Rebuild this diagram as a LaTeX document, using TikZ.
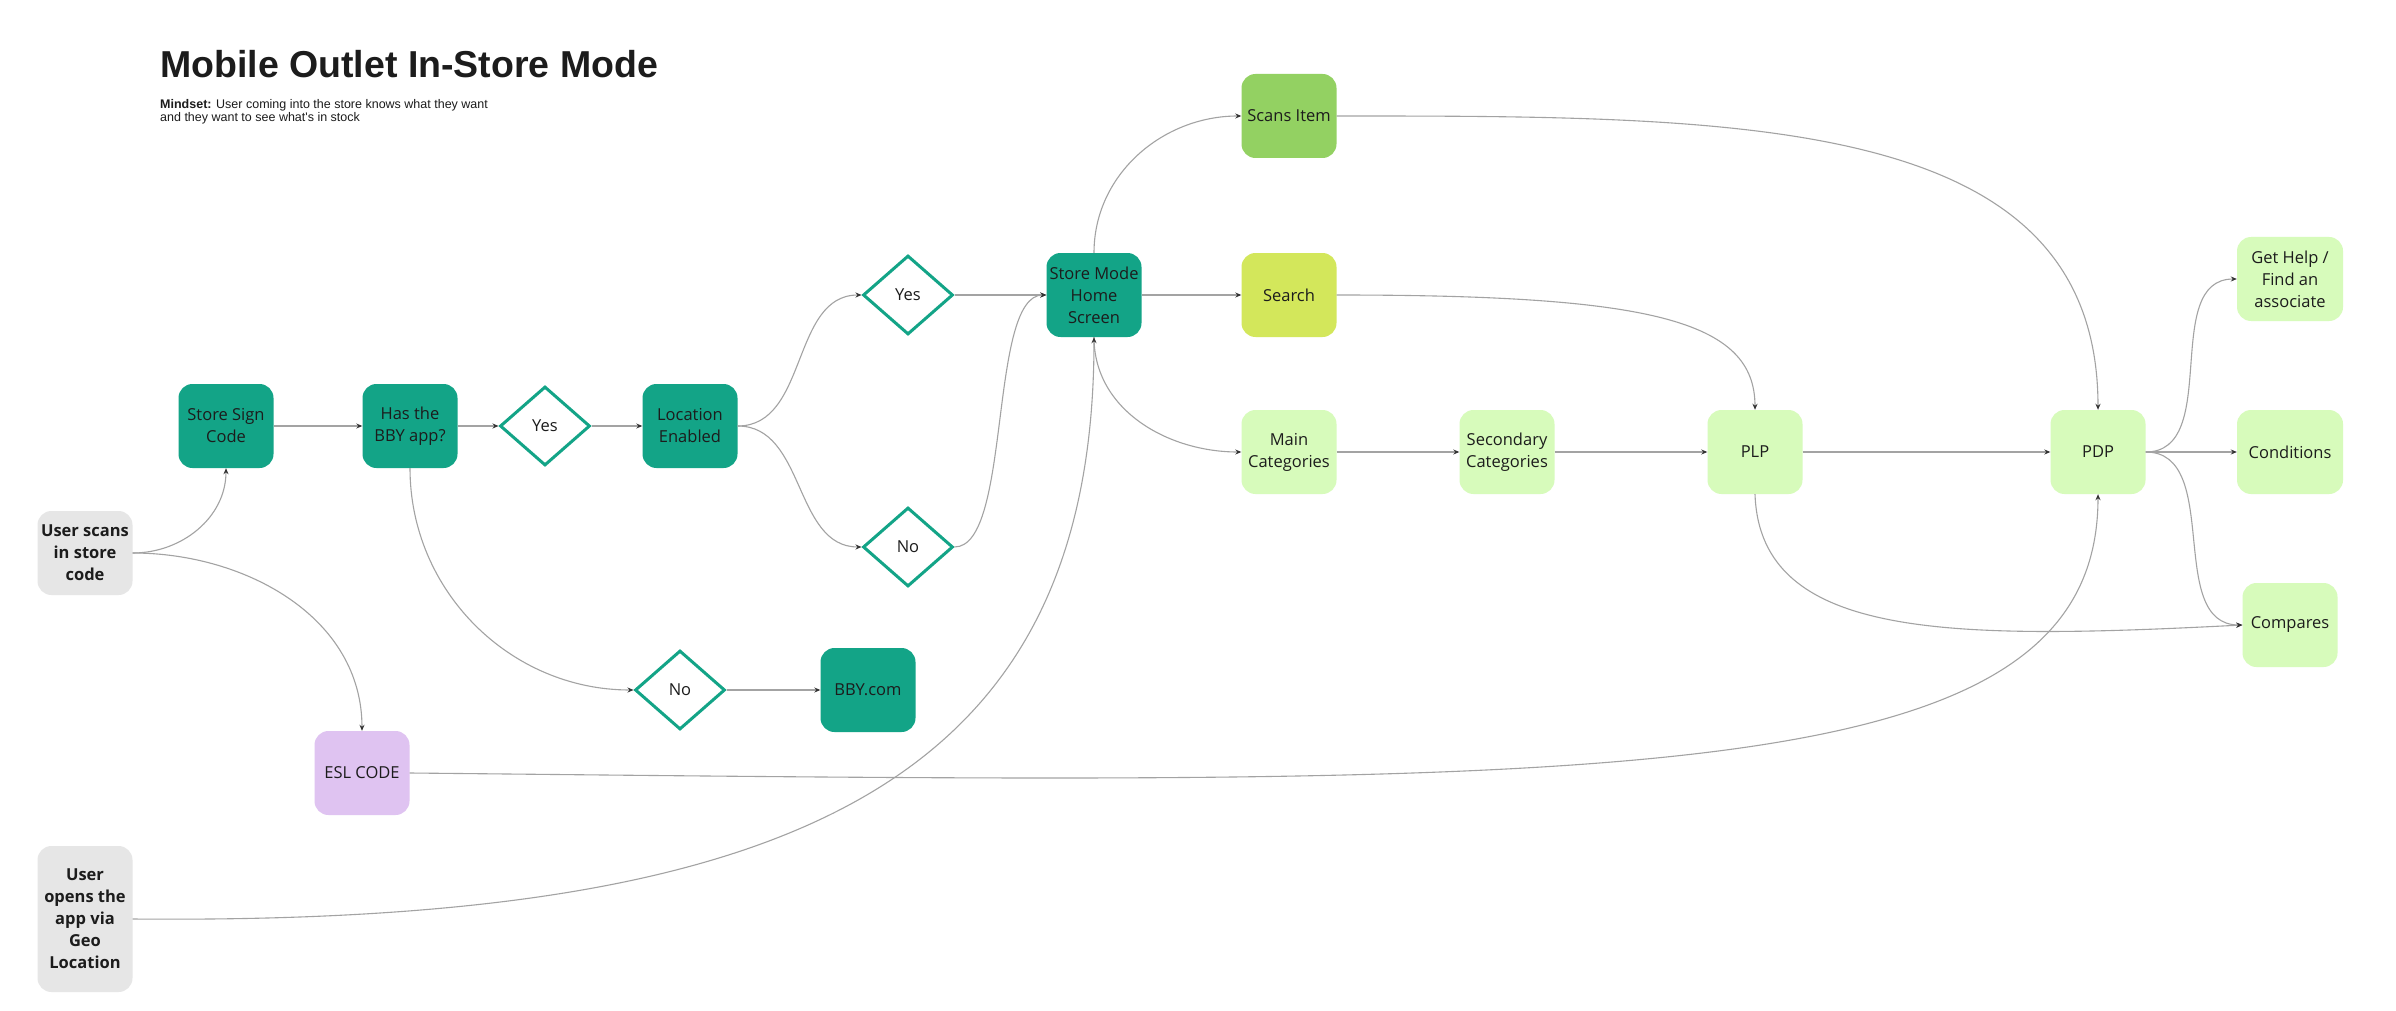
\documentclass[tikz,border=0pt]{standalone}
\usepackage{fontspec}
\setmainfont{Open Sans}
\newfontfamily\titlefont{Liberation Sans}
\usetikzlibrary{arrows.meta,shapes.geometric}
\definecolor{tealbg}{HTML}{13A487}
\definecolor{scanbg}{HTML}{93D162}
\definecolor{searchbg}{HTML}{D3E75B}
\definecolor{lightbg}{HTML}{D7FBBB}
\definecolor{lavbg}{HTML}{DFC3F1}
\definecolor{greybg}{HTML}{E6E6E6}
\definecolor{txt}{HTML}{1C1C1C}
\definecolor{linec}{HTML}{A3A3A3}
\definecolor{tipc}{HTML}{333333}
\begin{document}
\begin{tikzpicture}[x=1pt,y=-1pt,
  box/.style={rounded corners=14pt, minimum width=95pt, minimum height=84pt, align=center,
    font=\fontsize{16.5}{22}\selectfont, text=txt, inner sep=2pt},
  tealbox/.style={box, fill=tealbg},
  lightbox/.style={box, fill=lightbg},
  greybox/.style={box, fill=greybg, font=\fontsize{16.5}{22}\selectfont\bfseries},
  dia/.style={shape=diamond, draw=tealbg, line width=3pt, fill=white, inner sep=0pt,
    minimum width=90pt, minimum height=79pt, font=\fontsize{16.5}{22}\selectfont, text=txt},
  conn/.style={draw=linec, line width=1.1pt, -{Stealth[length=6pt,width=5pt,color=tipc]}}
]
\fill[white] (0,0) rectangle (2396,1011);
\useasboundingbox (0,0) rectangle (2396,1011);

% title
\node[anchor=base west, inner sep=0pt, font=\titlefont\fontsize{37.5}{40}\selectfont\bfseries, text=txt] (title) at (160,78) {Mobile Outlet In-Store Mode};
\node[anchor=base west, inner sep=0pt, font=\titlefont\fontsize{12.5}{13}\selectfont, text=txt] (mind1) at (160,109) {\textbf{Mindset:} User coming into the store knows what they want};
\node[anchor=base west, inner sep=0pt, font=\titlefont\fontsize{12.5}{13}\selectfont, text=txt] (mind2) at (160,122) {and they want to see what's in stock};

% nodes
\node[greybox] (scan) at (85,553) {User scans\\in store\\code};
\node[greybox, minimum height=146pt] (geo) at (85,919) {User\\opens the\\app via\\Geo\\Location};
\node[tealbox] (sign) at (226,426) {Store Sign\\Code};
\node[tealbox] (bby) at (410,426) {Has the\\BBY app?};
\node[dia] (yes1) at (545,426) {Yes};
\node[tealbox] (loc) at (690,426) {Location\\Enabled};
\node[dia] (yes2) at (908,295) {Yes};
\node[dia] (no1) at (908,547) {No};
\node[dia] (no2) at (680,690) {No};
\node[tealbox] (bbycom) at (868,690) {BBY.com};
\node[box, fill=lavbg] (esl) at (362,773) {ESL CODE};
\node[tealbox] (home) at (1094,295) {Store Mode\\Home\\Screen};
\node[box, fill=scanbg] (scanitem) at (1289,116) {Scans Item};
\node[box, fill=searchbg] (search) at (1289,295) {Search};
\node[lightbox] (maincat) at (1289,452) {Main\\Categories};
\node[lightbox] (seccat) at (1507,452) {Secondary\\Categories};
\node[lightbox] (plp) at (1755,452) {PLP};
\node[lightbox] (pdp) at (2098,452) {PDP};
\node[lightbox, minimum width=106pt] (help) at (2290,279) {Get Help /\\Find an\\associate};
\node[lightbox, minimum width=106pt] (cond) at (2290,452) {Conditions};
\node[lightbox] (comp) at (2290,625) {Compares};

% connectors
\draw[conn] (scan.east) to[out=0,in=-90] (sign.south);
\draw[conn] (scan.east) to[out=0,in=90] (esl.north);
\draw[conn] (sign) -- (bby);
\draw[conn] (bby) -- (yes1);
\draw[conn] (yes1) -- (loc);
\draw[conn] (bby.south) to[out=-90,in=180] (no2.west);
\draw[conn] (no2) -- (bbycom);
\draw[conn] (loc.east) to[out=0,in=180] (yes2.west);
\draw[conn] (loc.east) to[out=0,in=180] (no1.west);
\draw[conn] (yes2) -- (home);
\draw[conn] (no1.east) .. controls (1012,547) and (988,295) .. (home.west);
\draw[conn] (home.north) to[out=90,in=180] (scanitem.west);
\draw[conn] (home) -- (search);
\draw[conn] (home.south) to[out=-90,in=180] (maincat.west);
\draw[conn] (geo.east) .. controls (800,925) and (1094,780) .. (home.south);
\draw[conn] (maincat) -- (seccat);
\draw[conn] (seccat) -- (plp);
\draw[conn] (plp) -- (pdp);
\draw[conn] (scanitem.east) .. controls (1750,116) and (2098,116) .. (pdp.north);
\draw[conn] (search.east) .. controls (1650,295) and (1755,320) .. (plp.north);
\draw[conn] (plp.south) .. controls (1760,640) and (1950,640) .. (comp.west);
\draw[conn] (esl.east) .. controls (1600,785) and (2098,800) .. (pdp.south);
\draw[conn] (pdp.east) to[out=0,in=180] (help.west);
\draw[conn] (pdp) -- (cond);
\draw[conn] (pdp.east) to[out=0,in=180] (comp.west);
\end{tikzpicture}
\end{document}
